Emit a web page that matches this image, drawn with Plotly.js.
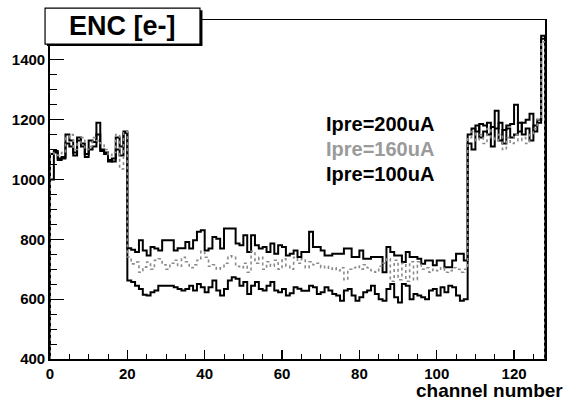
<!DOCTYPE html>
<html>
<head>
<meta charset="utf-8">
<script src="https://cdn.plot.ly/plotly-3.0.1.min.js"></script>
<style>html,body{margin:0;padding:0;background:#fff;}#chart{width:569px;height:401px;}</style>
</head>
<body>
<div id="chart"></div>
<script>
// ENC per channel (bins 0..127), three preamp currents
const ipre200 = [ // lowest curve
  1000,1090,1065,1070,1120,1110,1090,1130,1110,1085,1100,1110,1150,1100,1090,1065,1060,1100,1080,1155,
  662,657,645,634,615,612,623,629,645,645,
  645,645,640,634,629,634,645,629,651,640,
  623,640,662,629,612,634,662,673,668,645,
  657,617,645,657,634,629,645,657,629,623,
  634,612,620,640,635,
  628,628,645,640,617,623,640,629,617,612,
  595,629,634,612,595,606,623,629,645,617,
  600,595,634,651,606,589,651,645,600,617,
  612,606,600,629,634,612,640,623,645,640,
  612,595,600,
  1120,1100,1180,1140,1160,1190,1110,1170,1190,1120,1170,1140,1150,1190,1150,1170,1130,1180,1190,1470
];
const ipre160 = [ // gray curve
  1090,1085,1080,1090,1140,1150,1100,1120,1140,1100,1110,1140,1130,1120,1100,1080,1090,1150,1035,1160,
  741,718,724,690,707,724,700,730,735,715,
  700,720,730,710,740,725,705,715,730,760,
  740,710,715,700,705,720,745,740,710,705,
  720,690,760,720,740,700,725,710,730,700,
  735,710,700,740,720,
  735,705,725,715,720,705,710,700,705,695,
  705,665,700,705,710,700,715,705,695,690,
  710,720,735,660,730,665,720,660,725,665,
  725,700,705,690,700,695,705,690,695,705,
  700,690,700,
  1140,1160,1130,1150,1120,1170,1140,1130,1150,1100,1140,1120,1150,1130,1140,1120,1150,1170,1200,1460
];
const ipre100 = [ // highest curve
  1085,1095,1070,1075,1150,1130,1080,1140,1120,1075,1130,1125,1190,1095,1085,1060,1070,1140,1110,1160,
  770,765,758,797,763,746,774,769,763,797,
  797,797,763,770,770,791,769,797,825,830,
  763,769,808,802,769,836,836,836,786,780,
  814,758,814,780,769,774,758,786,752,780,
  774,746,752,763,741,
  758,758,825,774,774,763,746,746,752,752,
  752,769,769,741,741,763,735,735,741,741,
  741,690,774,758,746,746,724,758,741,741,
  735,718,729,729,713,729,729,707,707,729,
  752,752,729,
  1150,1170,1160,1185,1180,1150,1175,1230,1130,1165,1180,1185,1250,1160,1190,1200,1220,1160,1200,1480
];
const labels = ['Ipre=200uA','Ipre=160uA','Ipre=100uA'];
const yMin = 400, yMax = 1533, xMax = 128;

function outline(vals){
  const x=[0], y=[yMin];
  vals.forEach((v,i)=>{x.push(i); y.push(v);});
  x.push(vals.length); y.push(vals[vals.length-1]);
  x.push(vals.length); y.push(yMin);
  return {x:x, y:y};
}
function trace(vals, color, width, dash){
  const o = outline(vals);
  return {x:o.x, y:o.y, type:'scatter', mode:'lines', line:{shape:'hv', color:color, width:width, dash:dash}, hoverinfo:'skip', showlegend:false};
}
const traces = [
  trace(ipre100, '#000', 2, 'solid'),
  trace(ipre200, '#000', 2, 'solid'),
  trace(ipre160, '#8a8a8a', 1.6, 'dot')
];
const F = 'Liberation Sans, Arial, sans-serif';
const layout = {
  width:569, height:401,
  margin:{l:50, r:24, t:20, b:42},
  paper_bgcolor:'#fff', plot_bgcolor:'#fff',
  font:{family:F, color:'#000'},
  xaxis:{range:[0,xMax], dtick:20, tick0:0, ticks:'inside', ticklen:9, tickwidth:1.2, tickcolor:'#000',
    minor:{dtick:5, ticks:'inside', ticklen:5, tickwidth:1, tickcolor:'#000'},
    showgrid:false, zeroline:false, showline:true, linecolor:'#000', linewidth:1.5, mirror:true,
    tickfont:{family:F, size:15, color:'#000', weight:'bold'}},
  yaxis:{range:[yMin,yMax], dtick:200, tick0:400, ticks:'inside', ticklen:14, tickwidth:1.2, tickcolor:'#000',
    minor:{dtick:50, ticks:'inside', ticklen:7, tickwidth:1, tickcolor:'#000'},
    showgrid:false, zeroline:false, showline:true, linecolor:'#000', linewidth:1.8, mirror:true,
    tickfont:{family:F, size:15, color:'#000', weight:'bold'}},
  shapes:[
    {type:'rect', xref:'paper', yref:'paper', x0:-0.006, x1:0.308, y0:0.923, y1:1.029, fillcolor:'#000', line:{width:0}, layer:'above'},
    {type:'rect', xref:'paper', yref:'paper', x0:-0.010, x1:0.303, y0:0.929, y1:1.035, fillcolor:'#fff', line:{color:'#000', width:1.2}, layer:'above'}
  ],
  annotations:[
    {text:'<b>ENC [e-]</b>', xref:'paper', yref:'paper', x:0.146, y:0.982, xanchor:'center', yanchor:'middle', showarrow:false, font:{family:F, size:27, color:'#000'}},
    {text:'<b>'+labels[0]+'</b>', xref:'paper', yref:'paper', x:0.667, y:0.693, xanchor:'center', yanchor:'middle', showarrow:false, font:{family:F, size:20, color:'#000'}},
    {text:'<b>'+labels[1]+'</b>', xref:'paper', yref:'paper', x:0.667, y:0.619, xanchor:'center', yanchor:'middle', showarrow:false, font:{family:F, size:20, color:'#9a9a9a'}},
    {text:'<b>'+labels[2]+'</b>', xref:'paper', yref:'paper', x:0.667, y:0.546, xanchor:'center', yanchor:'middle', showarrow:false, font:{family:F, size:20, color:'#000'}},
    {text:'<b>channel number</b>', xref:'paper', yref:'paper', x:1.040, y:-0.094, xanchor:'right', yanchor:'middle', showarrow:false, font:{family:F, size:19, color:'#000'}}
  ]
};
Plotly.newPlot('chart', traces, layout, {staticPlot:true, displayModeBar:false});
</script>
</body>
</html>
